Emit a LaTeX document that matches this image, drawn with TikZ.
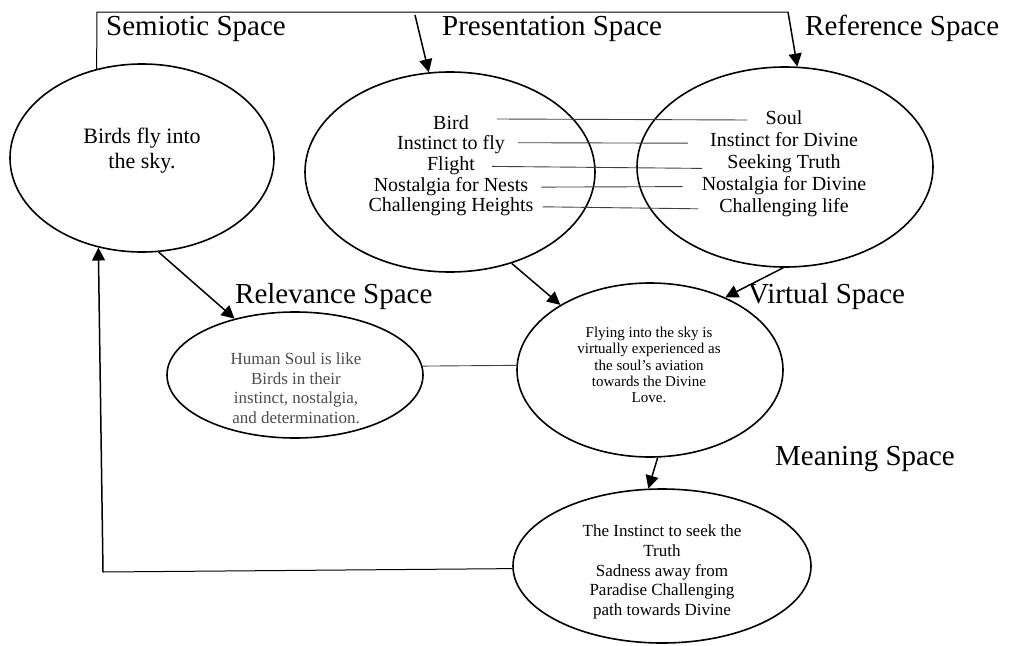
\documentclass[tikz,border=0pt]{standalone}
\usepackage{fontspec}
\setmainfont{Liberation Serif}
\usetikzlibrary{calc}
\usetikzlibrary{positioning}
\usetikzlibrary{shapes.geometric}
\usetikzlibrary{arrows.meta}

\definecolor{relgray}{gray}{0.3}
\tikzset{
  mentalspace/.style={ellipse, draw, line width=1.6pt, inner sep=0pt},
  spacetitle/.style={font=\fontsize{29}{30}\selectfont, anchor=base west, inner sep=0pt},
  item/.style={font=\fontsize{20}{22}\selectfont, anchor=base, inner sep=0pt,
    text height=14pt, text depth=4pt},
  maplink/.style={line width=0.9pt, black!75},
  arr/.style={line width=1.5pt, -{Triangle[length=13pt,width=13pt]}}
}

\begin{document}
\begin{tikzpicture}[x=1pt,y=-1pt]
      \useasboundingbox (0,0) rectangle (1014,645);

      % the six spaces
      \node[mentalspace, minimum width=264, minimum height=188] (sem) at (142,158) {};
      \node[mentalspace, minimum width=290, minimum height=200] (pres) at (450,172) {};
      \node[mentalspace, minimum width=296, minimum height=200] (ref) at (785,167) {};
      \node[mentalspace, minimum width=256, minimum height=126] (rel) at (295,375) {};
      \node[mentalspace, minimum width=266, minimum height=174] (virt) at (650,370) {};
      \node[mentalspace, minimum width=298, minimum height=154] (mean) at (662,566) {};

      % titles
      \node[spacetitle] (semlbl) at (106,35) {Semiotic Space};
      \node[spacetitle] (preslbl) at (442,35) {Presentation Space};
      \node[spacetitle] (reflbl) at (805,35) {Reference Space};
      \node[spacetitle] (rellbl) at (235,303) {Relevance Space};
      \node[spacetitle] (virtlbl) at (748,303) {Virtual Space};
      \node[spacetitle] (meanlbl) at (775,465) {Meaning Space};

      % texts
      \node[align=center, font=\fontsize{22}{25}\selectfont] (semtxt) at (142,151)
        {Birds fly into\\the sky.};
      \node[align=center, font=\fontsize{17}{19.5}\selectfont, text=relgray] (reltxt) at (296,388)
        {Human Soul is like\\Birds in their\\instinct, nostalgia,\\and determination.};
      \node[align=center, font=\fontsize{15}{16.3}\selectfont] (virttxt) at (649,365)
        {Flying into the sky is\\virtually experienced as\\the soul's aviation\\towards the Divine\\Love.};
      \node[align=center, font=\fontsize{17}{19.8}\selectfont] (meantxt) at (662,572)
        {The Instinct to seek the\\Truth\\Sadness away from\\Paradise Challenging\\path towards Divine};

      \foreach \t [count=\i] in {Bird, Instinct to fly, Flight, Nostalgia for Nests, Challenging Heights}
        \node[item] (p\i) at (451,{129+20.7*(\i-1)}) {\t};
      \foreach \t [count=\i] in {Soul, Instinct for Divine, Seeking Truth, Nostalgia for Divine, Challenging life}
        \node[item] (r\i) at (784,{124+22.2*(\i-1)}) {\t};

      % mappings
      \foreach \a/\ps/\rs/\dys/\dye in {1/28/18/5/-1, 2/13/22/2/-2, 3/17/25/-1/-5, 4/13/19/-1/-1, 5/9/21/0/-1}
        \draw[maplink] ([xshift=\ps,yshift=\dys]p\a.east) -- ([xshift=-\rs,yshift=\dye]r\a.west);

      % arrows
      \coordinate (tl) at (97,12);
      \coordinate (tr) at (788,12);
      \coordinate (ptop) at (415,15);
      \coordinate (bl) at (103,572);
      \draw[line width=1pt] (sem.117) -- (tl) -- (tr);
      \draw[arr] (tr) -- (ref.83);
      \draw[arr] (ptop) -- (pres.102);
      \draw[arr] (sem.-80) -- (rel.137);
      \draw[arr] (pres.-56) -- (virt.144);
      \draw[arr] (ref.-91) -- (virt.44);
      \draw[arr] (virt.-85) -- (mean.100);
      \draw[maplink] (rel.4) -- (virt.178);
      \draw[line width=1pt] (mean.181) -- (bl);
      \draw[arr] (bl) -- (sem.-116);
    \end{tikzpicture}
\end{document}
